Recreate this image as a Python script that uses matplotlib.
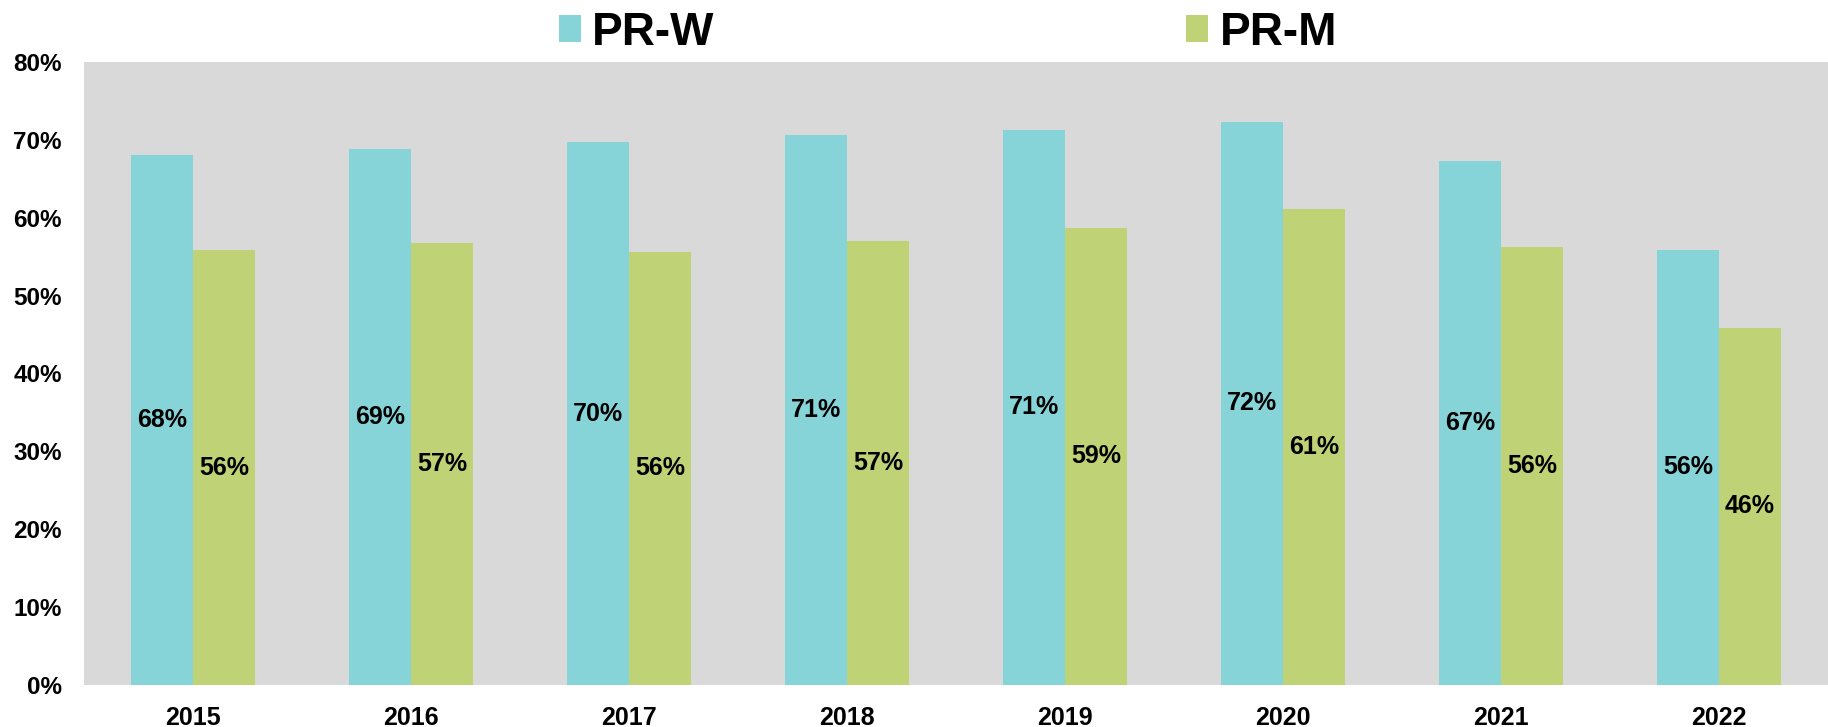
import matplotlib.pyplot as plt
import numpy as np

plt.rcParams['font.family'] = ['Liberation Sans', 'DejaVu Sans']
plt.rcParams['font.weight'] = 'bold'

years = ['2015', '2016', '2017', '2018', '2019', '2020', '2021', '2022']
pr_w = [68.0, 68.8, 69.7, 70.6, 71.3, 72.3, 67.3, 55.9]
pr_m = [55.8, 56.7, 55.6, 57.0, 58.7, 61.1, 56.2, 45.9]

col_w = '#86D4D8'
col_m = '#BFD275'

fig = plt.figure(figsize=(18.28, 7.27), dpi=100)
ax = fig.add_axes([0.046, 0.0578, 0.954, 0.857])
ax.set_facecolor('#D9D9D9')

x = np.arange(len(years))
w = 0.285
b1 = ax.bar(x - w / 2, pr_w, w, color=col_w, label='PR-W', linewidth=0)
b2 = ax.bar(x + w / 2, pr_m, w, color=col_m, label='PR-M', linewidth=0)

# value labels sit in the middle of each bar
for bars, vals in ((b1, pr_w), (b2, pr_m)):
    for rect, v in zip(bars, vals):
        ax.text(rect.get_x() + rect.get_width() / 2, v / 2, f'{v:.0f}%',
                ha='center', va='center', fontsize=18, fontweight='bold')

ax.set_xlim(-0.5, 7.5)
ax.set_ylim(0, 80)
ax.set_yticks(range(0, 81, 10))
ax.set_yticklabels([f'{t}%' for t in range(0, 81, 10)])
ax.set_xticks(x)
ax.set_xticklabels(years)
ax.tick_params(axis='y', length=0, pad=16, labelsize=17.5)
ax.tick_params(axis='x', length=0, pad=15, labelsize=18)
for s in ax.spines.values():
    s.set_visible(False)

fig.legend(handles=[b1, b2], loc='center', bbox_to_anchor=(0.5186, 0.955),
           ncol=2, frameon=False, fontsize=33, handlelength=0.48,
           handleheight=0.52, handletextpad=0.25, columnspacing=10.3)

fig.savefig('out.png', dpi=100)
